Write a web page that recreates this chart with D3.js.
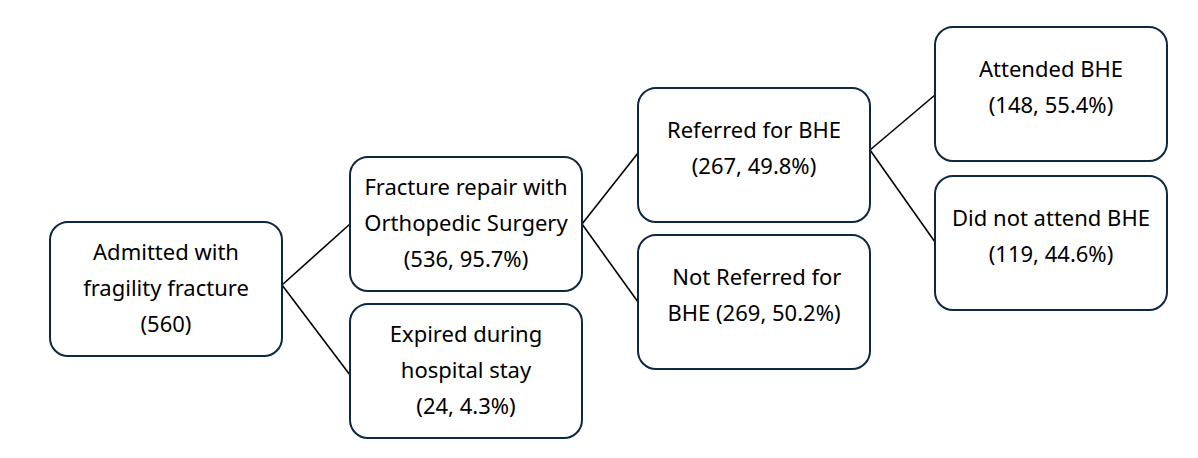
<!DOCTYPE html>
<html><head><meta charset="utf-8">
<script src="https://cdn.jsdelivr.net/npm/d3@7"></script>
<style>body{margin:0;background:#fff}</style></head>
<body><svg id="c" width="1198" height="458"></svg>
<script>
const nodeIds=["admit","repair","expired","referred","notref","attended","notattend"];
const nodeLines=[
 ["Admitted with","fragility fracture","(560)"],
 ["Fracture repair with","Orthopedic Surgery","(536, 95.7%)"],
 ["Expired during","hospital stay","(24, 4.3%)"],
 ["Referred for BHE","(267, 49.8%)"],
 [" Not Referred for","BHE (269, 50.2%)"],
 ["Attended BHE","(148, 55.4%)"],
 ["Did not attend BHE","(119, 44.6%)"]];
const nodeLevel=[0,1,1,2,2,3,3];
const nodeCenter=[289,224,371,155,302,94,243];
const links=[["admit","repair"],["admit","expired"],["repair","referred"],["repair","notref"],["referred","attended"],["referred","notattend"]];

const svg=d3.select("#c");
const xs=[50,350,638,935];
const W=232,H=134;
const nodes=nodeIds.map((id,i)=>({id,lines:nodeLines[i],x0:xs[nodeLevel[i]],cy:nodeCenter[i]}));
const byId=Object.fromEntries(nodes.map(n=>[n.id,n]));
const exitY={admit:285,repair:224,referred:150};
const entryY={repair:224,expired:375,referred:153,notref:302,attended:95,notattend:242};
svg.selectAll("line.l").data(links).join("line")
 .attr("x1",d=>byId[d[0]].x0+W).attr("y1",d=>exitY[d[0]])
 .attr("x2",d=>byId[d[1]].x0).attr("y2",d=>entryY[d[1]])
 .attr("stroke","#000").attr("stroke-width",1.6);
const g=svg.selectAll("g.n").data(nodes).join("g");
g.append("rect").attr("x",d=>d.x0).attr("y",d=>d.cy-H/2).attr("width",W).attr("height",H)
 .attr("rx",18).attr("fill","#fff").attr("stroke","#0e2841").attr("stroke-width",2);
g.each(function(d){
 const n=d.lines.length, gap=36;
 const top=d.cy-(n-1)*gap/2 - (n===2?7:1);
 d3.select(this).selectAll("text").data(d.lines).join("text")
  .attr("x",d.x0+W/2).attr("y",(t,i)=>top+i*gap+8).attr("text-anchor","middle")
  .attr("font-family","'Noto Sans', Arial, sans-serif").attr("font-size",22).attr("fill","#000")
  .attr("xml:space","preserve").text(t=>t);
});
</script></body></html>
